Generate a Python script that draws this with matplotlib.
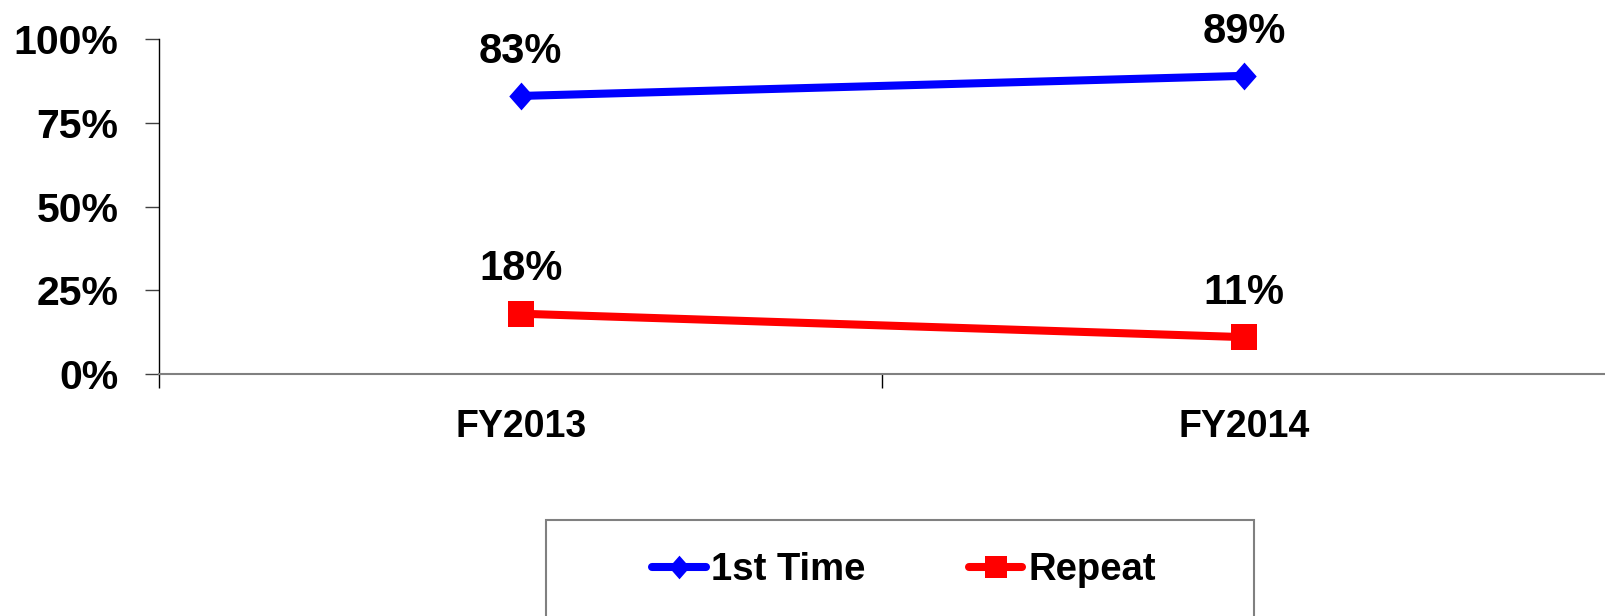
import matplotlib
matplotlib.use("Agg")
import matplotlib.pyplot as plt
from matplotlib.patches import Rectangle
from matplotlib.ticker import FixedLocator, NullFormatter

categories = ["FY2013", "FY2014"]
first_time = [83, 89]
repeat = [18, 11]
series_names = ["1st Time", "Repeat"]
y_ticks = [0, 25, 50, 75, 100]
y_tick_labels = ["0%", "25%", "50%", "75%", "100%"]

plt.rcParams['font.family'] = ['Liberation Sans', 'DejaVu Sans']
plt.rcParams['font.weight'] = 'bold'

fig = plt.figure(figsize=(16.06, 6.16), dpi=100)
ax = fig.add_axes([159/1606, 1-374/616, 1-159/1606, (374-39)/616])

diamond = [(0, 1), (0.88, 0), (0, -1), (-0.88, 0), (0, 1)]

x = list(range(len(categories)))
l1, = ax.plot(x, first_time, color='#0000FF', lw=5.8, marker=diamond, ms=20,
              mew=0, solid_capstyle='round', label=series_names[0])
l2, = ax.plot(x, repeat, color='#FF0000', lw=5.8, marker='s', ms=18.5,
              mew=0, solid_capstyle='round', label=series_names[1])

for xi, v in zip(x, first_time):
    ax.annotate(f"{v}%", (xi, v), xytext=(0, 24), textcoords='offset points',
                ha='center', va='baseline', fontsize=30, fontweight='bold')
for xi, v in zip(x, repeat):
    ax.annotate(f"{v}%", (xi, v), xytext=(0, 24), textcoords='offset points',
                ha='center', va='baseline', fontsize=30, fontweight='bold')

ax.set_xlim(-0.5, len(categories) - 0.5)
ax.set_ylim(0, 100)
ax.set_yticks(y_ticks)
ax.set_yticklabels(y_tick_labels, fontsize=29.5, fontweight='bold')
ax.tick_params(axis='y', length=10, width=1, color='#404040', pad=19)

ax.xaxis.set_major_locator(FixedLocator([i - 0.5 for i in range(len(categories) + 1)]))
ax.xaxis.set_major_formatter(NullFormatter())
ax.xaxis.set_minor_locator(FixedLocator(x))
ax.set_xticklabels(categories, minor=True, fontsize=27, fontweight='bold')
ax.tick_params(axis='x', which='major', length=10, width=1, color='black')
ax.tick_params(axis='x', which='minor', length=0, pad=25)

for s in ['top', 'right']:
    ax.spines[s].set_visible(False)
ax.spines['left'].set_color('black')
ax.spines['left'].set_linewidth(1)
ax.spines['bottom'].set_color('#808080')
ax.spines['bottom'].set_linewidth(1.5)

rect = Rectangle((546/1606, -0.1), 708/1606, 0.1 + 1 - 520/616,
                 transform=fig.transFigure, fill=False, edgecolor='#808080',
                 lw=1.5, clip_on=False)
fig.patches.append(rect)

leg = fig.legend(handles=[l1, l2], loc='center',
                 bbox_to_anchor=(904/1606, 1 - 570/616), ncol=2,
                 frameon=False, prop={'size': 27.5, 'weight': 'bold'},
                 handlelength=1.4, handletextpad=0.15, columnspacing=2.7,
                 markerscale=0.85)

fig.savefig("out.png", dpi=100)
